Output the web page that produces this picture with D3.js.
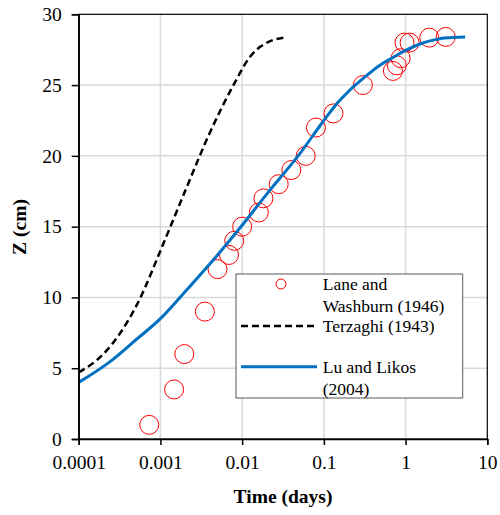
<!DOCTYPE html>
<html>
<head>
<meta charset="utf-8">
<script src="https://cdn.jsdelivr.net/npm/d3@7"></script>
<style>
  body { margin: 0; background: #fff; }
</style>
</head>
<body>
<div id="chart"></div>
<script>
// Lane and Washburn (1946) measurements: time (days), Z (cm)
var laneT = [0.00073, 0.00147, 0.00196, 0.0035, 0.005, 0.0069, 0.008, 0.01, 0.016, 0.0182, 0.028, 0.04, 0.06, 0.08, 0.131, 0.3, 0.7, 0.78, 0.87, 0.97, 1.12, 1.95, 3.1];
var laneZ = [1, 3.5, 6, 9, 12, 13, 14, 15, 16, 17, 18, 19, 20, 22, 23, 25, 26, 26.4, 26.9, 28, 28, 28.35, 28.4];

// Terzaghi (1943)
var terzT = [0.0001, 0.0002, 0.00032, 0.00056, 0.001, 0.002, 0.004, 0.008, 0.0125, 0.0166, 0.022, 0.0335];
var terzZ = [4.7, 6.0, 7.46, 9.9, 13.3, 17.5, 21.6, 25.1, 27.0, 27.7, 28.1, 28.37];

// Lu and Likos (2004)
var luT = [0.0001, 0.00024, 0.0005, 0.001, 0.002, 0.005, 0.01, 0.02, 0.05, 0.1, 0.15, 0.2, 0.3, 0.5, 0.7, 1, 1.5, 2, 3, 5.35];
var luZ = [4.0, 5.45, 7.0, 8.5, 10.4, 13.0, 15.1, 17.3, 20.1, 22.5, 23.8, 24.55, 25.45, 26.45, 26.95, 27.45, 27.9, 28.12, 28.33, 28.4];

var xTicks = [0.0001, 0.001, 0.01, 0.1, 1, 10];
var xTickLabels = ["0.0001", "0.001", "0.01", "0.1", "1", "10"];
var yTicks = [0, 5, 10, 15, 20, 25, 30];

var FONT = "'Liberation Serif', 'Times New Roman', serif";

var W = 500, H = 515;
var margin = {top: 14.3, right: 12.7, bottom: 76, left: 78.7};
var width = W - margin.left - margin.right,
    height = H - margin.top - margin.bottom;

var svg = d3.select("#chart").append("svg")
    .attr("width", W).attr("height", H)
    .attr("font-family", FONT);
var g = svg.append("g")
    .attr("transform", "translate(" + margin.left + "," + margin.top + ")");

var x = d3.scaleLog().domain([0.0001, 10]).range([0, width]);
var y = d3.scaleLinear().domain([0, 30]).range([height, 0]);

// grid
g.selectAll(".hgrid").data(yTicks.slice(1, -1)).enter().append("line")
    .attr("x1", 0).attr("x2", width)
    .attr("y1", function(d) { return y(d); }).attr("y2", function(d) { return y(d); })
    .attr("stroke", "#d9d9d9").attr("stroke-width", 1.5);
g.selectAll(".vgrid").data(xTicks.slice(1, -1)).enter().append("line")
    .attr("y1", 0).attr("y2", height)
    .attr("x1", function(d) { return x(d); }).attr("x2", function(d) { return x(d); })
    .attr("stroke", "#d9d9d9").attr("stroke-width", 1.5);

// data circles
var lane = laneT.map(function(t, i) { return {t: t, z: laneZ[i]}; });
g.selectAll(".pt").data(lane).enter().append("circle")
    .attr("cx", function(d) { return x(d.t); })
    .attr("cy", function(d) { return y(d.z); })
    .attr("r", 9.5)
    .attr("fill", "none")
    .attr("stroke", "#ff0000")
    .attr("stroke-width", 1);

var line = d3.line()
    .x(function(d) { return x(d.t); })
    .y(function(d) { return y(d.z); })
    .curve(d3.curveMonotoneX);

var terz = terzT.map(function(t, i) { return {t: t, z: terzZ[i]}; });
g.append("path").datum(terz)
    .attr("d", line)
    .attr("fill", "none")
    .attr("stroke", "#000")
    .attr("stroke-width", 2.5)
    .attr("stroke-dasharray", "7,4");

var lu = luT.map(function(t, i) { return {t: t, z: luZ[i]}; });
g.append("path").datum(lu)
    .attr("d", line)
    .attr("fill", "none")
    .attr("stroke", "#0070c0")
    .attr("stroke-width", 3);

// plot border
g.append("rect")
    .attr("width", width).attr("height", height)
    .attr("fill", "none").attr("stroke", "#000").attr("stroke-width", 1.2);

// axes
var xAxis = g.append("g")
    .attr("transform", "translate(0," + height + ")")
    .call(d3.axisBottom(x).tickValues(xTicks)
        .tickFormat(function(d, i) { return xTickLabels[i]; })
        .tickSize(6).tickPadding(10));
var yAxis = g.append("g")
    .call(d3.axisLeft(y).tickValues(yTicks).tickSize(7).tickPadding(10));
[xAxis, yAxis].forEach(function(a) {
  a.attr("font-family", FONT).attr("font-size", 19.5);
  a.select(".domain").attr("stroke", "#000").attr("stroke-width", 1.5);
  a.selectAll(".tick line").attr("stroke", "#000").attr("stroke-width", 1.5);
  a.selectAll("text").attr("fill", "#000");
});

// axis titles
svg.append("text")
    .attr("x", 283).attr("y", 503)
    .attr("text-anchor", "middle")
    .attr("font-size", 19.5).attr("font-weight", "bold")
    .text("Time (days)");
svg.append("text")
    .attr("transform", "translate(26,227) rotate(-90)")
    .attr("text-anchor", "middle")
    .attr("font-size", 19.5).attr("font-weight", "bold")
    .text("Z (cm)");

// legend
var lg = svg.append("g");
lg.append("rect")
    .attr("x", 236).attr("y", 274).attr("width", 226.7).attr("height", 124)
    .attr("fill", "#fff").attr("stroke", "#595959").attr("stroke-width", 1);
lg.append("circle")
    .attr("cx", 281).attr("cy", 284).attr("r", 5)
    .attr("fill", "none").attr("stroke", "#ff0000").attr("stroke-width", 1);
lg.append("line")
    .attr("x1", 241).attr("x2", 317).attr("y1", 326).attr("y2", 326)
    .attr("stroke", "#000").attr("stroke-width", 2.5).attr("stroke-dasharray", "7,4");
lg.append("line")
    .attr("x1", 241).attr("x2", 317).attr("y1", 366.7).attr("y2", 366.7)
    .attr("stroke", "#0070c0").attr("stroke-width", 3);
var legendText = [
  ["Lane and", 289.5], ["Washburn (1946)", 311.5], ["Terzaghi (1943)", 331.5],
  ["Lu and Likos", 372.5], ["(2004)", 394.5]
];
lg.selectAll(".lt").data(legendText).enter().append("text")
    .attr("x", 322.7).attr("y", function(d) { return d[1]; })
    .attr("font-size", 17.5)
    .text(function(d) { return d[0]; });
</script>
</body>
</html>
